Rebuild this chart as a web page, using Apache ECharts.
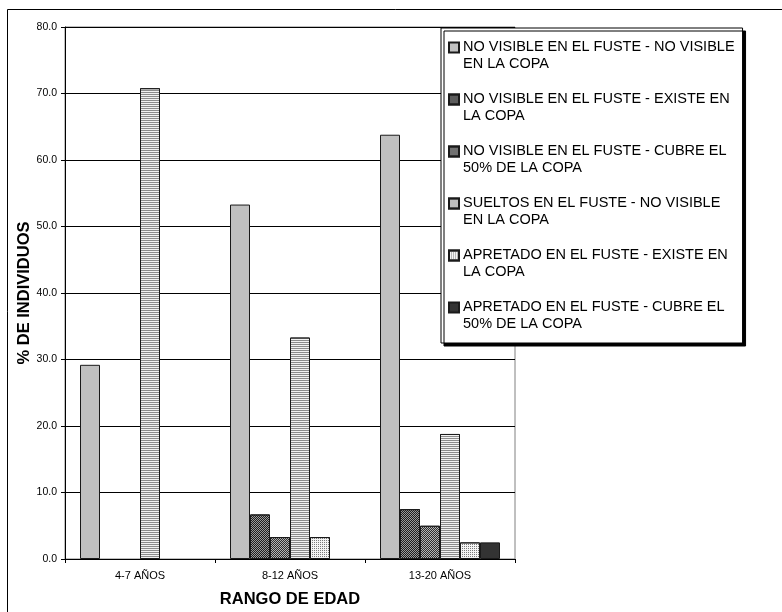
<!DOCTYPE html>
<html>
<head>
<meta charset="utf-8">
<script src="https://cdn.jsdelivr.net/npm/echarts@6/dist/echarts.min.js"></script>
<style>
  html, body { margin: 0; padding: 0; background: #fff; }
  #chart { width: 782px; height: 612px; }
</style>
</head>
<body>
<div id="chart"></div>
<script>
// Age ranges on the x axis
const categories = ['4-7 AÑOS', '8-12 AÑOS', '13-20 AÑOS'];

// Series names and their wrapped legend text
const seriesNames = [
  'NO VISIBLE EN EL FUSTE - NO VISIBLE EN LA COPA',
  'NO VISIBLE EN EL FUSTE - EXISTE EN LA COPA',
  'NO VISIBLE EN EL FUSTE - CUBRE EL 50% DE LA COPA',
  'SUELTOS EN EL FUSTE - NO VISIBLE EN LA COPA',
  'APRETADO EN EL FUSTE - EXISTE EN LA COPA',
  'APRETADO EN EL FUSTE - CUBRE EL 50% DE LA COPA'
];
const legendLines = [
  'NO VISIBLE EN EL FUSTE - NO VISIBLE\nEN LA COPA',
  'NO VISIBLE EN EL FUSTE - EXISTE EN\nLA COPA',
  'NO VISIBLE EN EL FUSTE - CUBRE EL\n50% DE LA COPA',
  'SUELTOS EN EL FUSTE - NO VISIBLE\nEN LA COPA',
  'APRETADO EN EL FUSTE - EXISTE EN\nLA COPA',
  'APRETADO EN EL FUSTE - CUBRE EL\n50% DE LA COPA'
];

// Percentage of individuals per age range (null = no bar)
const noVisibleNoVisible = [29.2, 53.3, 63.8];
const noVisibleExiste    = [null, 6.7, 7.5];
const noVisibleCubre     = [null, 3.3, 5.0];
const sueltosNoVisible   = [70.8, 33.3, 18.8];
const apretadoExiste     = [null, 3.3, 2.5];
const apretadoCubre      = [null, null, 2.5];

// Y axis ticks
const yTicks = [0, 10, 20, 30, 40, 50, 60, 70, 80];

const FONT = 'Liberation Sans, Arial, sans-serif';

const checker = [[1, 1], [0, 1, 1, 0]];
const fills = [
  { color: '#c0c0c0' },
  { color: '#9a9a9a', decal: { symbol: 'rect', symbolSize: 1, dashArrayX: checker, dashArrayY: [1, 0], color: '#1e1e1e' } },
  { color: '#b4b4b4', decal: { symbol: 'rect', symbolSize: 1, dashArrayX: checker, dashArrayY: [1, 0], color: '#2e2e2e' } },
  { color: '#f2f2f2', decal: { symbol: 'rect', symbolSize: 1, dashArrayX: [1, 0], dashArrayY: [1, 1], color: '#8c8c8c' } },
  { color: '#f4f4f4', decal: { symbol: 'rect', symbolSize: 1, dashArrayX: [1, 1], dashArrayY: [1, 1], color: '#7a7a7a' } },
  { color: '#333333' }
];
const seriesValues = [noVisibleNoVisible, noVisibleExiste, noVisibleCubre,
                      sueltosNoVisible, apretadoExiste, apretadoCubre];

const chart = echarts.init(document.getElementById('chart'), null, { renderer: 'canvas' });

const option = {
  animation: false,
  backgroundColor: '#ffffff',
  grid: {
    left: 65, top: 27, width: 450, height: 532,
    outerBoundsMode: 'none',
    containLabel: false,
    show: true, borderColor: '#808080', borderWidth: 1, backgroundColor: 'transparent'
  },
  legend: {
    orient: 'vertical',
    left: 441, top: 28,
    padding: [11, 8, 11, 7],
    itemGap: 19,
    itemWidth: 10, itemHeight: 26,
    icon: 'path://M0,0H10V10H0Z M0,26L0,26',
    backgroundColor: '#ffffff',
    borderColor: '#000000', borderWidth: 1,
    shadowColor: '#000000', shadowOffsetX: 3, shadowOffsetY: 3, shadowBlur: 0,
    textStyle: { fontFamily: FONT, fontSize: 14.5, color: '#000', lineHeight: 16.5, padding: [0, 0, 0, -1] },
    formatter: function (name) { return legendLines[seriesNames.indexOf(name)]; },
    data: seriesNames
  },
  xAxis: {
    type: 'category',
    data: categories,
    name: 'RANGO DE EDAD',
    nameLocation: 'middle',
    nameGap: 32,
    nameMoveOverlap: false,
    nameTextStyle: { fontFamily: FONT, fontSize: 16.5, fontWeight: 'bold', color: '#000' },
    axisLine: { lineStyle: { color: '#000', width: 1 } },
    axisTick: { show: true, length: 4, lineStyle: { color: '#000' } },
    axisLabel: { fontFamily: FONT, fontSize: 11, color: '#000', margin: 11 },
    splitLine: { show: false }
  },
  yAxis: {
    type: 'value',
    min: yTicks[0], max: yTicks[yTicks.length - 1], interval: yTicks[1] - yTicks[0],
    name: '% DE INDIVIDUOS',
    nameLocation: 'middle',
    nameRotate: 90,
    nameGap: 32,
    nameMoveOverlap: false,
    nameTextStyle: { fontFamily: FONT, fontSize: 16.5, fontWeight: 'bold', color: '#000' },
    axisLine: { show: true, lineStyle: { color: '#000', width: 1 } },
    axisTick: { show: true, length: 4, lineStyle: { color: '#000' } },
    axisLabel: { fontFamily: FONT, fontSize: 10.5, color: '#000', margin: 8,
                 formatter: function (v) { return v.toFixed(1); } },
    splitLine: { show: true, lineStyle: { color: '#000', width: 1 } }
  },
  series: seriesNames.map(function (name, i) {
    return {
      name: name,
      type: 'bar',
      data: seriesValues[i],
      barGap: '0%',
      barCategoryGap: '20%',
      itemStyle: Object.assign({ borderColor: '#1a1a1a', borderWidth: 1 }, fills[i])
    };
  }),
  graphic: [
    // outer frame (top and left edges)
    { type: 'polyline', shape: { points: [[7.5, 620], [7.5, 9.5], [790, 9.5]] },
      style: { stroke: '#000', lineWidth: 1, fill: null }, silent: true }
  ]
};

chart.setOption(option);
</script>
</body>
</html>
